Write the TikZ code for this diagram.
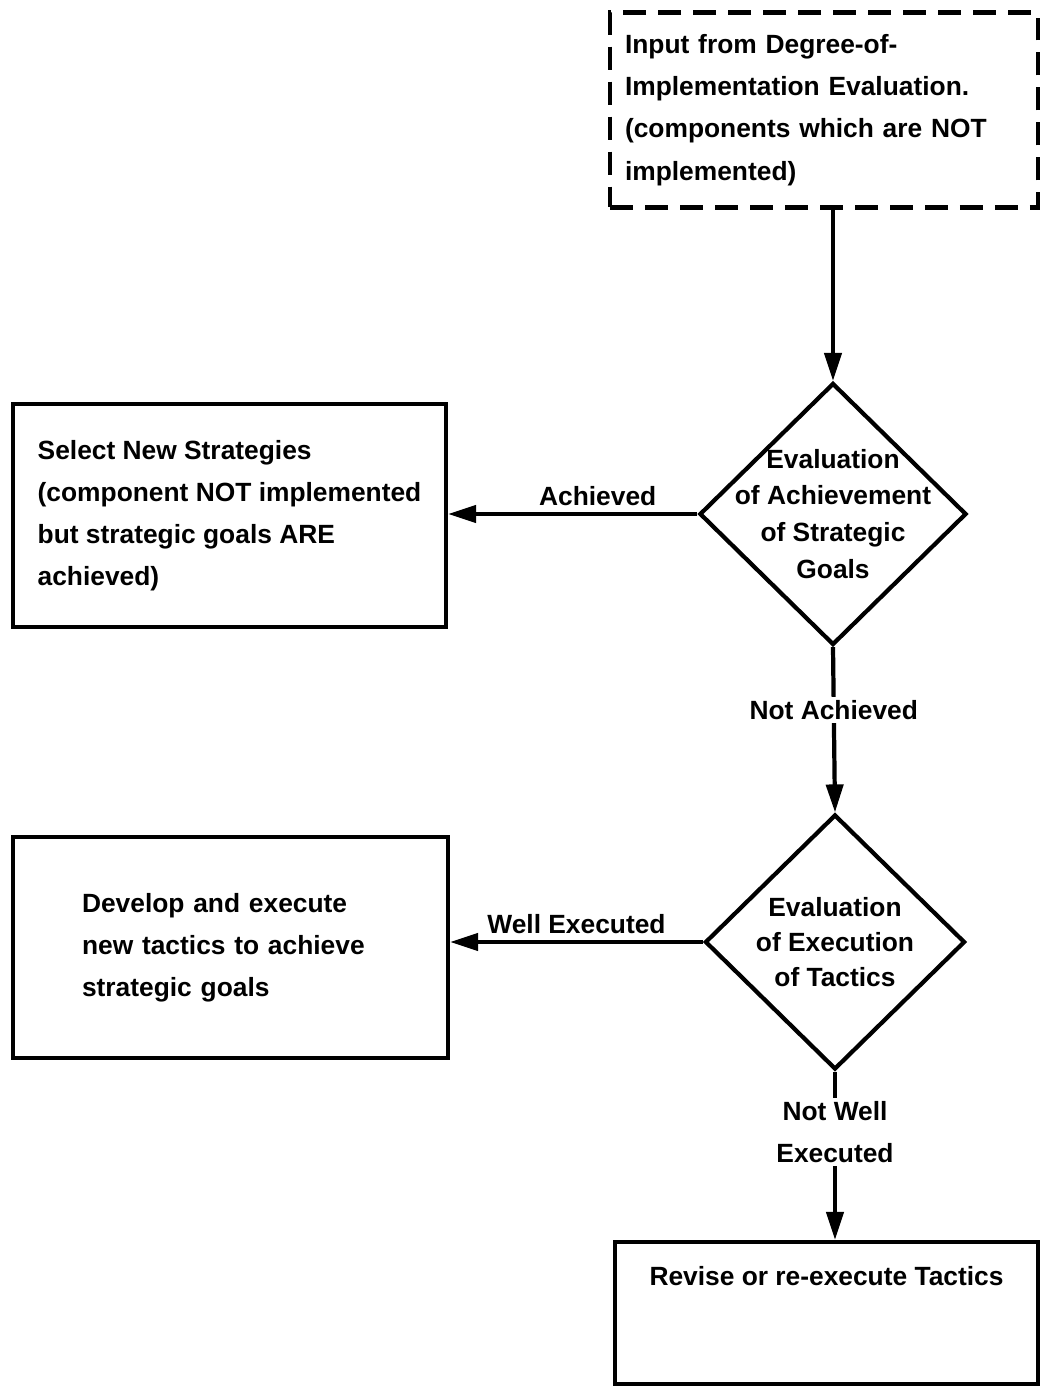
\documentclass[tikz,border=0pt]{standalone}
\usepackage{fontspec}
\setmainfont{Liberation Sans}
\usetikzlibrary{shapes.geometric,arrows.meta}
\tikzset{
  box/.style={draw, line width=2.4pt, rectangle, align=left},
  dashbox/.style={box, dash pattern=on 0.46cm off 0.24cm},
  decision/.style={draw, line width=2.4pt, diamond, inner sep=0pt,
                   minimum width=5.34cm, minimum height=5.24cm},
  flow/.style={line width=2.4pt, -{Triangle[length=0.56cm,width=0.34cm]}},
  tag/.style={fill=white, inner sep=2pt, align=center}
}
\begin{document}
\begin{tikzpicture}[x=0.02cm,y=-0.02cm,font=\fontsize{15}{24}\selectfont\bfseries]
    \useasboundingbox (0,0) rectangle (1041,1388);
    % Draw input box
    \node[dashbox, minimum width=8.56cm, minimum height=3.9cm, inner xsep=0.3cm, text width=7.96cm] (input) at (824,110)
        {Input from Degree-of-\\Implementation Evaluation.\\(components which are NOT\\implemented)};
    % Draw decisions
    \node[decision, label={[align=center,font=\fontsize{15}{21}\selectfont\bfseries]center:Evaluation\\of Achievement\\of Strategic\\Goals}]
        (achieve) at (833,514) {};
    \node[decision, minimum width=5.2cm, minimum height=5.1cm,
          label={[align=center,font=\fontsize{15}{20}\selectfont\bfseries]center:Evaluation\\of Execution\\of Tactics}]
        (execute) at (835,942) {};
    % Draw outcome boxes
    \node[box, minimum width=8.66cm, minimum height=4.46cm] (strategies) at (229.5,515.5)
        {Select New Strategies\\(component NOT implemented\\but strategic goals ARE\\achieved)};
    \node[box, minimum width=8.7cm, minimum height=4.42cm, inner xsep=0.5cm, text width=7.7cm] (tactics) at (230.5,947.5)
        {\hspace*{0.88cm}Develop and execute\\\hspace*{0.88cm}new tactics to achieve\\\hspace*{0.88cm}strategic goals};
    \node[box, minimum width=8.46cm, minimum height=2.84cm,
          label={[below=0.4cm]north:Revise or re-execute Tactics}] (revise) at (826.5,1313) {};
    % Draw connectors
    \draw[flow] (achieve.north |- input.south) -- (achieve.north);
    \draw[flow] (achieve.west) -- node[above, pos=0.4] {Achieved} (strategies.east |- achieve.west);
    \draw[flow] (achieve.south) -- node[tag, pos=0.38] {Not Achieved} (execute.north);
    \draw[flow] (execute.west) -- node[above] {Well Executed} (tactics.east |- execute.west);
    \draw[flow] (execute.south) -- node[tag, pos=0.36] {Not Well\\Executed} (execute.south |- revise.north);
\end{tikzpicture}
\end{document}
